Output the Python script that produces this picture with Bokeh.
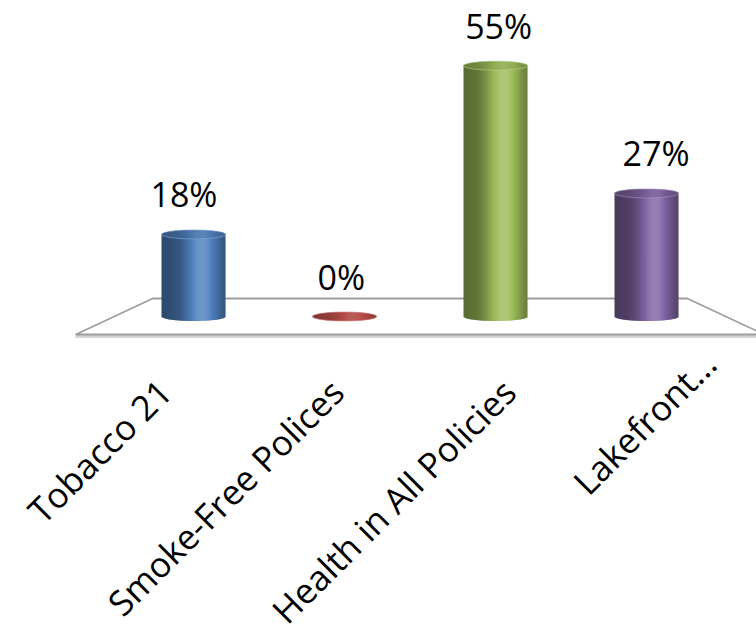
import numpy as np
from bokeh.plotting import figure
from bokeh.models import Range1d, ColumnDataSource
from bokeh.embed import file_html
from bokeh.resources import INLINE
from bokeh.core.properties import value

# ---- data -------------------------------------------------------------
categories = ["Tobacco 21", "Smoke-Free Polices", "Health in All Policies", "Lakefront..."]
percent = [18, 0, 55, 27]
value_labels = ["18%", "0%", "55%", "27%"]
bar_colors = ["#4F81BD", "#C0504D", "#9BBB59", "#8064A2"]

# ---- layout (screen pixels) ------------------------------------------
W, H = 756, 637
X0_PX = 193          # pixel x of the first category
PX_PER_CAT = 151     # pixel spacing between categories
BASE_PX = 316        # pixel y of the 0% level
PX_PER_PCT = 4.56    # pixels per percentage point

FONT = "Open Sans"
VALUE_FONT_SIZE = "34px"
CAT_FONT_SIZE = "35px"

n = len(categories)
x_range = Range1d(-X0_PX / PX_PER_CAT, (W - X0_PX) / PX_PER_CAT)
y_range = Range1d(-(H - BASE_PX) / PX_PER_PCT, BASE_PX / PX_PER_PCT)

p = figure(width=W, height=H, x_range=x_range, y_range=y_range,
           output_backend="svg", toolbar_location=None,
           x_axis_location=None, y_axis_location=None,
           min_border=0, outline_line_color=None)
p.grid.visible = False
p.background_fill_color = "white"
p.border_fill_color = "white"

# ---- floor of the 3-D plot area ---------------------------------------
DEPTH = 18 / PX_PER_PCT          # half depth of the floor (data units)
BACK_PAD, FRONT_PAD = 0.27, 0.78  # floor overhang beyond first/last category
floor_x = [-BACK_PAD, n - 1 + BACK_PAD, n - 1 + FRONT_PAD, -FRONT_PAD]
floor_y = [DEPTH, DEPTH, -DEPTH, -DEPTH]
shadow_dy = 2 / PX_PER_PCT
p.patch(floor_x, [y - shadow_dy for y in floor_y], fill_color=None,
        line_color="#d4d4d4", line_width=3)
p.patch(floor_x, floor_y, fill_color="white", line_color="#9e9e9e", line_width=1.8)


# ---- shaded cylinders ----------------------------------------------------
def hex_rgb(h):
    h = h.lstrip("#")
    return np.array([int(h[k:k + 2], 16) for k in (0, 2, 4)], dtype=float)


def shade(h, f):
    rgb = hex_rgb(h)
    if f <= 1:
        out = rgb * f
    else:
        out = rgb + (255 - rgb) * min(1.0, (f - 1) * 1.3)
    out = np.clip(out, 0, 255).astype(int)
    return "#%02x%02x%02x" % tuple(out)


def profile(t):
    # dark on the left, highlight right of centre, slightly darker right rim
    return 0.58 + 0.56 * np.exp(-((t - 0.63) / 0.28) ** 2)


HALF_W = 32 / PX_PER_CAT     # cylinder radius (data x units)
CAP = 4.5 / PX_PER_PCT       # half height of the elliptical caps (data y units)
N = 64
edges = np.linspace(-1, 1, N + 1)
mid = (edges[:-1] + edges[1:]) / 2
curve = np.sqrt(1 - mid ** 2)
step = edges[1] - edges[0]

for i, (v, col) in enumerate(zip(percent, bar_colors)):
    left = i + edges[:-1] * HALF_W
    right = i + np.minimum(edges[1:] + step * 0.6, 1) * HALF_W
    src = ColumnDataSource(dict(
        left=left, right=right,
        bottom=-CAP * curve,
        top=v + CAP * curve,
        color=[shade(col, profile((m + 1) / 2)) for m in mid],
    ))
    p.quad(left="left", right="right", bottom="bottom", top="top",
           fill_color="color", line_color=None, source=src)
    # top face
    p.ellipse(x=[i], y=[v], width=[2 * HALF_W], height=[2 * CAP],
              fill_color=shade(col, 0.85), fill_alpha=0.45,
              line_color=shade(col, 1.25), line_alpha=0.6, line_width=1)

# ---- value labels ---------------------------------------------------------
PERSPECTIVE = 0.042
lab_src = ColumnDataSource(dict(
    x=[i + PERSPECTIVE * (i - (n - 1) / 2) for i in range(n)],
    y=percent,
    text=value_labels,
))
p.text(x="x", y="y", text="text", source=lab_src, y_offset=-40,
       text_align="center", text_baseline="alphabetic",
       text_font=value(FONT), text_font_size=VALUE_FONT_SIZE, text_color="#000000")

# ---- rotated category labels along the front edge ---------------------
front_spread = (n - 1 + 2 * FRONT_PAD) / n
shift = [0, 0, 0, 40]   # truncated label sits further along its diagonal
d = np.sqrt(0.5)
cat_src = ColumnDataSource(dict(
    x=[(n - 1) / 2 + (i - (n - 1) / 2) * front_spread for i in range(n)],
    y=[-DEPTH] * n,
    text=categories,
    xo=[3 + s * d for s in shift],
    yo=[51 - s * d for s in shift],
))
p.text(x="x", y="y", text="text", source=cat_src, x_offset="xo", y_offset="yo",
       angle=np.pi / 4, text_align="right", text_baseline="middle",
       text_font=value(FONT), text_font_size=CAT_FONT_SIZE, text_color="#000000")

open("out.html", "w").write(file_html(p, INLINE))
